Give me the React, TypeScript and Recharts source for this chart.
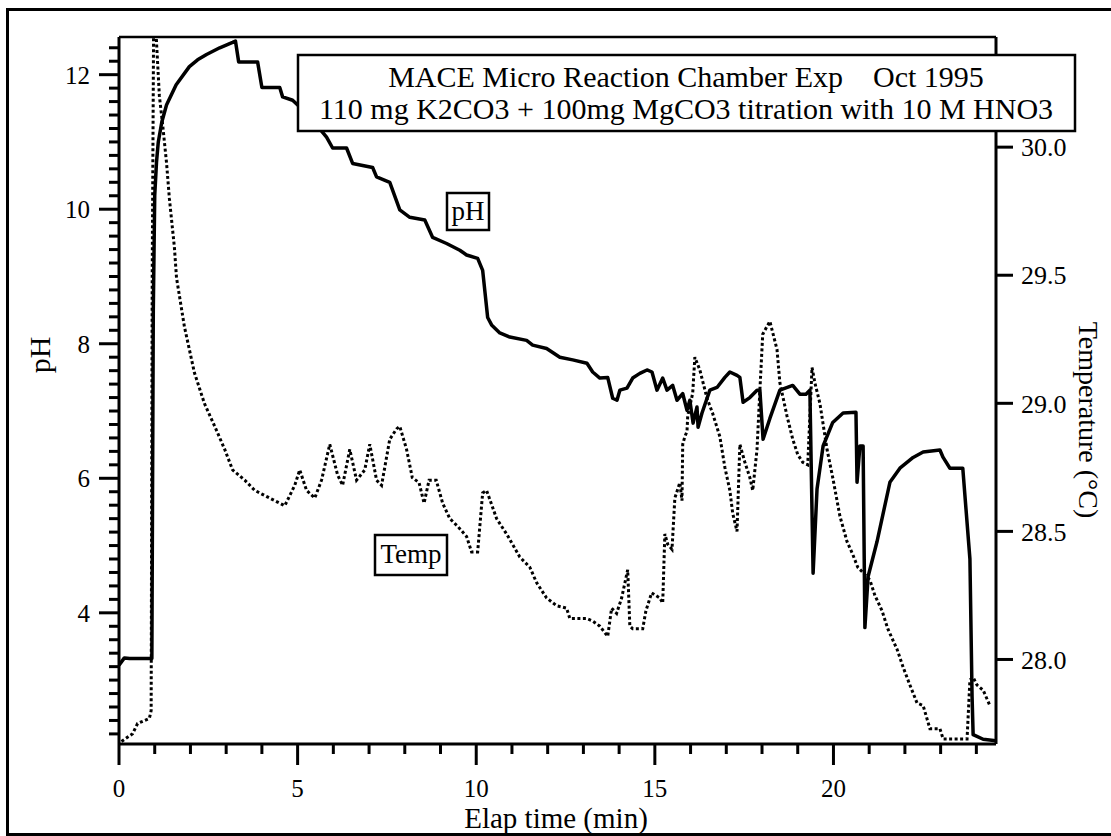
import React from 'react';
import { LineChart, Line, XAxis, YAxis, ReferenceLine } from 'recharts';

const FONT = '"Liberation Serif", "Times New Roman", Times, serif';

// ---- data: elapsed time (min) / pH ----
const phSeries: [number, number][] = [
  [0, 3.22], [0.15, 3.33], [0.3, 3.32], [0.92, 3.32], [0.96, 8.5], [1.0, 10.2], [1.05, 10.7],
  [1.1, 11.0], [1.2, 11.3], [1.33, 11.55], [1.6, 11.85], [1.97, 12.12], [2.2, 12.22], [2.45, 12.3],
  [2.82, 12.4], [3.18, 12.48], [3.26, 12.5], [3.35, 12.19], [3.88, 12.19], [4.0, 11.81], [4.5, 11.81],
  [4.58, 11.67], [4.86, 11.62], [5.3, 11.4], [5.81, 11.07], [5.98, 10.91], [6.37, 10.91], [6.54, 10.68],
  [7.1, 10.62], [7.21, 10.48], [7.58, 10.4], [7.86, 9.99], [8.14, 9.88], [8.56, 9.84], [8.78, 9.58],
  [9.17, 9.49], [9.54, 9.39], [9.73, 9.32], [10.04, 9.27], [10.18, 9.09], [10.32, 8.39], [10.43, 8.28],
  [10.66, 8.16], [10.94, 8.1], [11.41, 8.05], [11.58, 7.98], [11.97, 7.93], [12.14, 7.87], [12.34, 7.8],
  [12.7, 7.76], [13.1, 7.71], [13.26, 7.58], [13.46, 7.49], [13.68, 7.5], [13.82, 7.19], [13.94, 7.16],
  [14.02, 7.31], [14.22, 7.34], [14.38, 7.49], [14.58, 7.56], [14.78, 7.61], [14.92, 7.58], [15.06, 7.31],
  [15.22, 7.49], [15.34, 7.31], [15.5, 7.38], [15.62, 7.16], [15.78, 7.26], [15.9, 7.01], [15.98, 7.16],
  [16.07, 6.82], [16.18, 7.06], [16.21, 6.76], [16.32, 6.97], [16.54, 7.31], [16.74, 7.35], [16.96, 7.5],
  [17.1, 7.58], [17.3, 7.53], [17.38, 7.5], [17.47, 7.13], [17.66, 7.2], [17.86, 7.31], [17.94, 7.31],
  [18.03, 6.58], [18.22, 6.89], [18.5, 7.31], [18.86, 7.38], [19.06, 7.25], [19.23, 7.25], [19.34, 7.31],
  [19.43, 4.59], [19.54, 5.84], [19.71, 6.48], [19.98, 6.83], [20.27, 6.97], [20.63, 6.98], [20.66, 5.94],
  [20.74, 6.48], [20.83, 6.48], [20.88, 3.78], [20.97, 4.54], [21.22, 5.06], [21.58, 5.94], [21.86, 6.15],
  [22.23, 6.31], [22.51, 6.39], [22.98, 6.42], [23.07, 6.31], [23.26, 6.15], [23.62, 6.15], [23.82, 4.8],
  [23.88, 2.76], [23.91, 2.19], [24.19, 2.12], [24.55, 2.1],
];

// ---- data: elapsed time (min) / temperature (°C) ----
const tempSeries: [number, number][] = [
  [0.07, 27.68], [0.38, 27.71], [0.52, 27.75], [0.85, 27.77], [0.9, 27.8], [0.93, 29.5], [0.97, 30.5],
  [1.02, 30.5], [1.05, 30.41], [1.13, 30.2], [1.22, 30.09], [1.33, 29.94], [1.41, 29.8], [1.55, 29.61],
  [1.61, 29.49], [1.83, 29.3], [2.11, 29.12], [2.39, 29.0], [2.68, 28.91], [2.96, 28.82], [3.18, 28.74],
  [3.52, 28.7], [3.8, 28.66], [4.08, 28.64], [4.36, 28.62], [4.64, 28.6], [4.92, 28.68], [5.06, 28.74],
  [5.25, 28.66], [5.48, 28.63], [5.67, 28.7], [5.9, 28.84], [6.12, 28.72], [6.26, 28.68], [6.46, 28.82],
  [6.65, 28.7], [6.88, 28.74], [7.02, 28.84], [7.21, 28.7], [7.35, 28.68], [7.58, 28.86], [7.77, 28.9],
  [7.86, 28.91], [8.05, 28.82], [8.21, 28.71], [8.4, 28.69], [8.54, 28.61], [8.68, 28.7], [8.88, 28.7],
  [9.06, 28.61], [9.26, 28.55], [9.48, 28.52], [9.73, 28.48], [9.87, 28.42], [10.04, 28.42], [10.18, 28.65],
  [10.29, 28.66], [10.57, 28.55], [10.85, 28.49], [11.22, 28.4], [11.5, 28.36], [11.69, 28.3], [11.97, 28.24],
  [12.25, 28.21], [12.53, 28.2], [12.62, 28.16], [13.09, 28.16], [13.26, 28.15], [13.46, 28.13], [13.68, 28.09],
  [13.79, 28.2], [13.93, 28.18], [14.07, 28.24], [14.24, 28.35], [14.3, 28.13], [14.38, 28.12], [14.66, 28.12],
  [14.75, 28.19], [14.91, 28.26], [15.14, 28.24], [15.22, 28.22], [15.28, 28.49], [15.36, 28.45], [15.48, 28.43],
  [15.56, 28.63], [15.7, 28.69], [15.76, 28.62], [15.78, 28.84], [15.84, 28.87], [15.9, 28.89], [15.92, 28.95],
  [16.06, 29.04], [16.12, 29.18], [16.26, 29.13], [16.46, 29.02], [16.62, 28.96], [16.82, 28.87], [16.96, 28.75],
  [17.1, 28.66], [17.18, 28.57], [17.3, 28.5], [17.38, 28.84], [17.52, 28.77], [17.66, 28.71], [17.74, 28.66],
  [17.86, 28.82], [17.94, 29.05], [18.02, 29.27], [18.22, 29.32], [18.42, 29.21], [18.5, 29.08], [18.7, 28.95],
  [18.86, 28.86], [19.0, 28.8], [19.14, 28.77], [19.28, 28.76], [19.4, 29.14], [19.48, 29.08], [19.62, 29.0],
  [19.82, 28.82], [19.98, 28.71], [20.18, 28.56], [20.38, 28.46], [20.54, 28.41], [20.68, 28.36], [20.82, 28.34],
  [21.02, 28.31], [21.16, 28.25], [21.36, 28.19], [21.52, 28.12], [21.78, 28.04], [21.95, 27.97], [22.14, 27.9],
  [22.34, 27.83], [22.51, 27.82], [22.7, 27.73], [22.98, 27.73], [23.07, 27.69], [23.74, 27.69], [23.82, 27.92],
  [23.91, 27.93], [24.02, 27.9], [24.19, 27.88], [24.38, 27.82],
];

// ---- axes ----
const X_DOMAIN: [number, number] = [0, 24.55];
const PH_DOMAIN: [number, number] = [2.05, 12.56];
const TEMP_DOMAIN: [number, number] = [27.67, 30.43];
const xTicks = [0, 1, 2, 3, 4, 5, 6, 7, 8, 9, 10, 11, 12, 13, 14, 15, 16, 17, 18, 19, 20, 21, 22, 23, 24];
const xLabelEvery = 5;
const phTickStep = 0.2;
const phLabelEvery = 2;
const phTicks: number[] = [];
for (let k = 11; k <= 62; k++) phTicks.push(Math.round(k * phTickStep * 10) / 10);
const tempTicks = [28.0, 28.5, 29.0, 29.5, 30.0];

const phData = phSeries.map(([t, v]) => ({ t, ph: v }));
const tempData = tempSeries.map(([t, v]) => ({ t, temp: v }));

function PhTick(props: any) {
  const { x, y, payload } = props;
  const v = payload.value as number;
  const tenth = Math.round(v * 10);
  const major = tenth % (phLabelEvery * 10) === 0;
  return (
    <g>
      <line x1={x} y1={y} x2={x - (major ? 20 : 10)} y2={y} stroke="#000" strokeWidth={3} />
      {major && (
        <text x={x - 29} y={y + 9} textAnchor="end" fontSize={25} fontFamily={FONT} fill="#000">
          {tenth / 10}
        </text>
      )}
    </g>
  );
}

function TimeTick(props: any) {
  const { x, y, payload } = props;
  const v = payload.value as number;
  const major = v % xLabelEvery === 0;
  return (
    <g>
      <line x1={x} y1={y} x2={x} y2={y + (major ? 21 : 10)} stroke="#000" strokeWidth={3} />
      {major && (
        <text x={x} y={y + 53} textAnchor="middle" fontSize={25} fontFamily={FONT} fill="#000">
          {v}
        </text>
      )}
    </g>
  );
}

export default function App() {
  return (
    <div style={{ position: 'absolute', left: 0, top: 0, width: 1111, height: 836, background: '#fff', overflow: 'hidden' }}>
      <div style={{ position: 'absolute', left: 0, top: 0 }}>
        <LineChart width={1111} height={836} margin={{ top: 37, right: 35, bottom: 32, left: 35 }}>
          <XAxis
            xAxisId="x"
            dataKey="t"
            type="number"
            domain={X_DOMAIN}
            ticks={xTicks}
            interval={0}
            allowDataOverflow
            height={60}
            tickSize={0}
            tickMargin={0}
            tickLine={false}
            tick={(p: any) => <TimeTick {...p} />}
            axisLine={{ stroke: '#000', strokeWidth: 3 }}
          />
          <YAxis
            yAxisId="ph"
            orientation="left"
            type="number"
            domain={PH_DOMAIN}
            ticks={phTicks}
            interval={0}
            allowDataOverflow
            width={84}
            tickSize={0}
            tickMargin={0}
            tickLine={false}
            tick={(p: any) => <PhTick {...p} />}
            axisLine={{ stroke: '#000', strokeWidth: 3 }}
          />
          <YAxis
            yAxisId="temp"
            orientation="right"
            type="number"
            domain={TEMP_DOMAIN}
            ticks={tempTicks}
            interval={0}
            allowDataOverflow
            width={80}
            tickSize={17}
            tickMargin={8}
            tickFormatter={(v: number) => v.toFixed(1)}
            tick={{ fill: '#000', fontSize: 26, fontFamily: FONT }}
            tickLine={{ stroke: '#000', strokeWidth: 3 }}
            axisLine={{ stroke: '#000', strokeWidth: 3 }}
          />
          <ReferenceLine xAxisId="x" yAxisId="ph" y={PH_DOMAIN[1]} stroke="#000" strokeWidth={2.5} />
          <Line
            xAxisId="x"
            yAxisId="temp"
            data={tempData}
            dataKey="temp"
            type="linear"
            stroke="#000"
            strokeWidth={3}
            strokeDasharray="3 2.5"
            dot={false}
            isAnimationActive={false}
          />
          <Line
            xAxisId="x"
            yAxisId="ph"
            data={phData}
            dataKey="ph"
            type="linear"
            stroke="#000"
            strokeWidth={3.5}
            strokeLinejoin="round"
            dot={false}
            isAnimationActive={false}
          />
        </LineChart>
      </div>
      <svg
        width={1111}
        height={836}
        style={{ position: 'absolute', left: 0, top: 0, pointerEvents: 'none' }}
        fontFamily={FONT}
      >
        <path d="M7.5,836 V9.5 H1111" fill="none" stroke="#000" strokeWidth={3} />
        <line x1={7.5} y1={834.5} x2={1111} y2={834.5} stroke="#000" strokeWidth={3} />
        <rect x={298} y={55} width={777} height={76} fill="#fff" stroke="#000" strokeWidth={2.5} />
        <text x={686} y={87} textAnchor="middle" fontSize={30} fill="#000" xmlSpace="preserve" style={{ whiteSpace: 'pre' }}>
          {'MACE Micro Reaction Chamber Exp    Oct 1995'}
        </text>
        <text x={686} y={119} textAnchor="middle" fontSize={30} fill="#000" xmlSpace="preserve" style={{ whiteSpace: 'pre' }}>
          {'110 mg K2CO3 + 100mg MgCO3 titration with 10 M HNO3'}
        </text>
        <rect x={447} y={193} width={42} height={37} fill="#fff" stroke="#000" strokeWidth={2.5} />
        <text x={468} y={220} textAnchor="middle" fontSize={27} fill="#000">pH</text>
        <rect x={375} y={535} width={72} height={40} fill="#fff" stroke="#000" strokeWidth={2.5} />
        <text x={411} y={563} textAnchor="middle" fontSize={27} fill="#000">Temp</text>
        <text x={50} y={355} textAnchor="middle" fontSize={30} fill="#000" transform="rotate(-90 50 355)">pH</text>
        <text x={556} y={828} textAnchor="middle" fontSize={29} fill="#000">Elap time (min)</text>
        <text x={1079} y={420} textAnchor="middle" fontSize={28} fill="#000" transform="rotate(90 1079 420)">
          Temperature (°C)
        </text>
      </svg>
    </div>
  );
}
